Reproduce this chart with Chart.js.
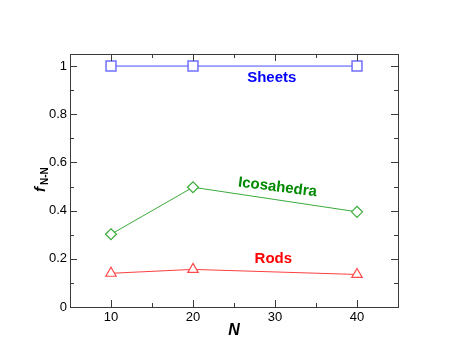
<!DOCTYPE html>
<html>
<head>
<meta charset="utf-8">
<script src="https://cdn.jsdelivr.net/npm/chart.js@4/dist/chart.umd.min.js"></script>
<style>
  body { margin: 0; background: #fff; }
  #wrap { width: 469px; height: 362px; }
</style>
</head>
<body>
<div id="wrap"><canvas id="fnn"></canvas></div>
<script>
// data
const nValues = [10, 20, 40];
const sheets = [1.0, 1.0, 1.0];
const icosahedra = [0.302, 0.497, 0.395];
const rods = [0.140, 0.156, 0.135];

const xTicks = [10, 20, 30, 40];
const xMinor = [15, 25, 35];
const yTicks = [0, 0.2, 0.4, 0.6, 0.8, 1];
const yMinor = [0.1, 0.3, 0.5, 0.7, 0.9];

const FONT = "'Liberation Sans', Arial, Helvetica, sans-serif";

function pts(ys) {
  return nValues.map((n, i) => ({ x: n, y: ys[i] }));
}

// frame, inner ticks on all four sides, axis titles and curve labels
const framePlugin = {
  id: 'frame',
  afterDraw(chart) {
    const ctx = chart.ctx;
    const a = chart.chartArea;
    const xs = chart.scales.x, ys = chart.scales.y;
    ctx.save();
    ctx.strokeStyle = '#3a3a3a';
    ctx.lineWidth = 1;
    ctx.strokeRect(Math.round(a.left) + 0.5, Math.round(a.top) + 0.5,
      Math.round(a.right - a.left), Math.round(a.bottom - a.top));

    ctx.beginPath();
    const tickX = (v, len) => {
      const px = Math.round(xs.getPixelForValue(v)) + 0.5;
      ctx.moveTo(px, a.bottom); ctx.lineTo(px, a.bottom - len);
      ctx.moveTo(px, a.top); ctx.lineTo(px, a.top + len);
    };
    const tickY = (v, len) => {
      const py = Math.round(ys.getPixelForValue(v)) + 0.5;
      ctx.moveTo(a.left, py); ctx.lineTo(a.left + len, py);
      ctx.moveTo(a.right, py); ctx.lineTo(a.right - len, py);
    };
    xTicks.forEach(v => tickX(v, 7));
    xMinor.forEach(v => tickX(v, 4));
    yTicks.forEach(v => tickY(v, 7));
    yMinor.forEach(v => tickY(v, 4));
    ctx.stroke();

    // x title
    ctx.fillStyle = '#000';
    ctx.font = 'italic bold 16px ' + FONT;
    ctx.textAlign = 'center';
    ctx.textBaseline = 'alphabetic';
    ctx.fillText('N', (a.left + a.right) / 2, 335);

    // y title  f_{N-N}
    ctx.save();
    ctx.translate(45, 192);
    ctx.rotate(-Math.PI / 2);
    ctx.textAlign = 'left';
    ctx.font = 'italic bold 15px ' + FONT;
    ctx.fillText('f', 0, 0);
    const fw = ctx.measureText('f').width;
    ctx.font = 'bold 10px ' + FONT;
    ctx.fillText('N-N', fw + 2, 3);
    ctx.restore();

    // curve labels
    ctx.font = 'bold 15px ' + FONT;
    ctx.textAlign = 'center';
    ctx.textBaseline = 'middle';
    const lab = (text, color, x, y, rot) => {
      ctx.save();
      ctx.fillStyle = color;
      ctx.translate(xs.getPixelForValue(x), ys.getPixelForValue(y));
      ctx.rotate(rot);
      ctx.fillText(text, 0, 0);
      ctx.restore();
    };
    lab('Sheets', '#0000ff', 29.6, 0.950, 0);
    lab('Icosahedra', '#008a00', 30.3, 0.497, 0.125);
    lab('Rods', '#ff0000', 29.8, 0.200, 0);
    ctx.restore();
  }
};

new Chart(document.getElementById('fnn'), {
  type: 'scatter',
  data: {
    datasets: [
      {
        label: 'Sheets',
        data: pts(sheets),
        showLine: true,
        borderColor: '#4b4bff',
        borderWidth: 1,
        pointStyle: 'rect',
        pointRadius: 7,
        pointBorderWidth: 1.5,
        pointBorderColor: '#7070ff',
        pointBackgroundColor: '#ffffff',
      },
      {
        label: 'Icosahedra',
        data: pts(icosahedra),
        showLine: true,
        borderColor: '#3aaa3a',
        borderWidth: 1,
        pointStyle: 'rectRot',
        pointRadius: 5.5,
        pointBorderWidth: 1.2,
        pointBorderColor: '#3aaa3a',
        pointBackgroundColor: '#ffffff',
      },
      {
        label: 'Rods',
        data: pts(rods),
        showLine: true,
        borderColor: '#ff4040',
        borderWidth: 1,
        pointStyle: 'triangle',
        pointRadius: 6,
        pointBorderWidth: 1.2,
        pointBorderColor: '#ff4a4a',
        pointBackgroundColor: '#ffffff',
      },
    ],
  },
  options: {
    responsive: true,
    maintainAspectRatio: false,
    animation: false,
    layout: { padding: { left: 0, right: 71, top: 54, bottom: 0 } },
    scales: {
      x: {
        type: 'linear',
        min: 5,
        max: 45,
        grid: { display: false, drawTicks: false },
        border: { display: false },
        afterBuildTicks: s => { s.ticks = xTicks.map(v => ({ value: v })); },
        afterFit: s => { s.height = 55; },
        ticks: {
          padding: 3,
          color: '#000',
          font: { family: FONT, size: 13 },
          maxRotation: 0,
        },
      },
      y: {
        type: 'linear',
        min: 0,
        max: 1.05,
        grid: { display: false, drawTicks: false },
        border: { display: false },
        afterBuildTicks: s => { s.ticks = yTicks.map(v => ({ value: v })); },
        afterFit: s => { s.width = 70; },
        ticks: {
          padding: 3,
          color: '#000',
          font: { family: FONT, size: 13 },
          callback: v => String(Math.round(v * 10) / 10),
        },
      },
    },
    plugins: {
      legend: { display: false },
      tooltip: { enabled: false },
    },
  },
  plugins: [framePlugin],
});
</script>
</body>
</html>
